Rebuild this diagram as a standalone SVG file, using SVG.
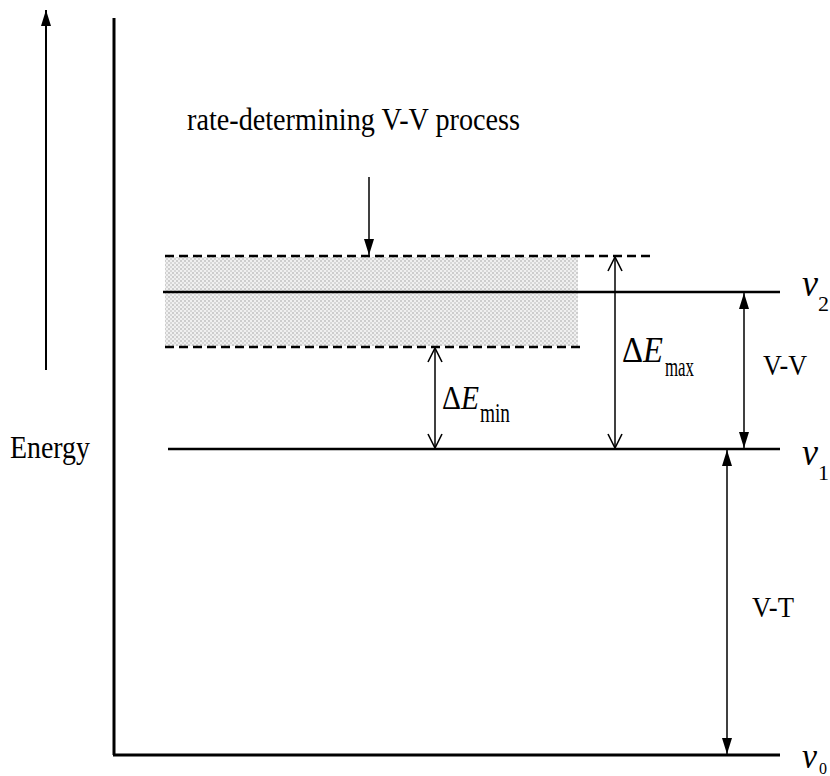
<svg xmlns="http://www.w3.org/2000/svg" width="830" height="776" viewBox="0 0 830 776">
<style>
text { font-family: "Liberation Serif", "Times New Roman", serif; fill: #000; }
.lvl { stroke: #000; stroke-width: 2.6; fill: none; }
.dash { stroke: #000; stroke-width: 2.4; stroke-dasharray: 9 5; fill: none; }
.arr { stroke: #000; stroke-width: 1.5; fill: none; }
.it { font-style: italic; }
</style>
<defs>
<pattern id="dots" width="4" height="4" patternUnits="userSpaceOnUse">
<rect width="4" height="4" fill="#f0f0f0"/>
<circle cx="1" cy="1" r="0.8" fill="#a0a0a0"/>
<circle cx="3" cy="3" r="0.8" fill="#b8b8b8"/>
</pattern>
<marker id="fa" viewBox="0 0 16 10" refX="16" refY="5" markerWidth="16" markerHeight="10" markerUnits="userSpaceOnUse" orient="auto-start-reverse">
<path d="M0,0 L16,5 L0,10 z" fill="#000"/>
</marker>
<marker id="oa" viewBox="0 0 15 14" refX="14" refY="7" markerWidth="15" markerHeight="14" markerUnits="userSpaceOnUse" orient="auto-start-reverse" overflow="visible">
<path d="M0,0 L14,7 L0,14" fill="none" stroke="#000" stroke-width="1.6"/>
</marker>
</defs>

<g id="axes">
<line x1="114" y1="18" x2="114" y2="755" stroke="#000" stroke-width="3"/>
<line x1="113" y1="755" x2="780" y2="755" stroke="#000" stroke-width="3"/>
</g>

<g id="energy-axis">
<line x1="46" y1="370" x2="46" y2="10" stroke="#000" stroke-width="2" marker-end="url(#fa)"/>
<text x="10" y="458" font-size="32" textLength="80" lengthAdjust="spacingAndGlyphs">Energy</text>
</g>

<g id="band">
<rect x="165" y="257" width="413" height="89" fill="url(#dots)"/>
<line class="dash" x1="165" y1="256" x2="652" y2="256"/>
<line class="dash" x1="165" y1="347" x2="580" y2="347"/>
</g>

<g id="level-v2">
<line class="lvl" x1="163" y1="292" x2="780" y2="292"/>
<text x="802" y="296" font-size="38" class="it" textLength="16" lengthAdjust="spacingAndGlyphs">ν</text>
<text x="818" y="311" font-size="22">2</text>
</g>

<g id="level-v1">
<line class="lvl" x1="168" y1="449" x2="780" y2="449"/>
<text x="802" y="465" font-size="38" class="it" textLength="16" lengthAdjust="spacingAndGlyphs">ν</text>
<text x="818" y="480" font-size="22">1</text>
</g>

<g id="level-v0">
<text x="802" y="768" font-size="36" class="it" textLength="15" lengthAdjust="spacingAndGlyphs">ν</text>
<text x="819" y="774" font-size="16">0</text>
</g>

<g id="label-rate">
<text x="187" y="130" font-size="32" textLength="333" lengthAdjust="spacingAndGlyphs">rate-determining V-V process</text>
</g>

<g id="connectors">
<line class="arr" x1="369" y1="177" x2="369" y2="255" marker-end="url(#fa)"/>
<line class="arr" x1="615" y1="257" x2="615" y2="448" marker-start="url(#oa)" marker-end="url(#oa)"/>
<line class="arr" x1="435" y1="348" x2="435" y2="448" marker-start="url(#oa)" marker-end="url(#oa)"/>
<line class="arr" x1="744" y1="293" x2="744" y2="448" marker-start="url(#fa)" marker-end="url(#fa)"/>
<line class="arr" x1="727" y1="450" x2="727" y2="754" marker-start="url(#fa)" marker-end="url(#fa)"/>
</g>

<g id="label-dEmax">
<text x="622" y="362" font-size="36" textLength="41" lengthAdjust="spacingAndGlyphs">Δ<tspan class="it">E</tspan></text>
<text x="665" y="376" font-size="27" textLength="29" lengthAdjust="spacingAndGlyphs">max</text>
</g>

<g id="label-dEmin">
<text x="442" y="409" font-size="34" textLength="37" lengthAdjust="spacingAndGlyphs">Δ<tspan class="it">E</tspan></text>
<text x="480" y="422" font-size="27" textLength="30" lengthAdjust="spacingAndGlyphs">min</text>
</g>

<g id="label-VV">
<text x="763" y="375" font-size="29" textLength="44" lengthAdjust="spacingAndGlyphs">V-V</text>
</g>

<g id="label-VT">
<text x="752" y="617" font-size="29" textLength="42" lengthAdjust="spacingAndGlyphs">V-T</text>
</g>
</svg>
